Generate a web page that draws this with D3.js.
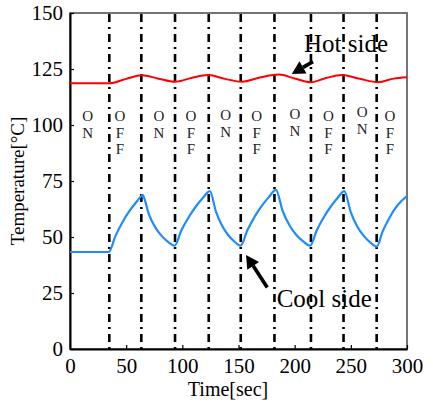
<!DOCTYPE html>
<html><head><meta charset="utf-8">
<script src="https://cdn.jsdelivr.net/npm/d3@7"></script>
<style>body{margin:0;background:#fff}svg{display:block}svg text{font-family:"Liberation Serif","Times New Roman",serif !important}</style>
</head><body>
<svg id="c" width="433" height="403" font-family="Liberation Serif"></svg>
<script>
const xTicks = [0, 50, 100, 150, 200, 250, 300];
const yTicks = [0, 25, 50, 75, 100, 125, 150];
const switchTimes = [35, 63.5, 93.5, 123.5, 152, 182, 214.5, 243.5, 273];

const hotTime = [0, 35, 50, 64, 78, 93.5, 108, 123, 138, 153, 170, 186, 200, 214.5, 228, 242, 258, 274.5, 288, 300];
const hotTemp = [118.6, 118.6, 120.6, 122.2, 120.8, 119.3, 121.0, 122.3, 120.6, 119.3, 121.3, 122.5, 120.8, 119.1, 121.0, 122.3, 120.6, 119.1, 120.7, 121.3];

const coolTime = [0, 34.5, 40.6, 46.7, 52.8, 58.9, 63.5, 64.7, 65.6, 70.2, 75.9, 81.6, 87.3, 93, 99.3, 105.6, 111.9, 118.2, 124.5, 130, 135.4, 140.9, 146.3, 151.8, 158.1, 164.4, 170.7, 177, 183.3, 189.4, 195.5, 201.5, 207.6, 213.7, 219.8, 225.9, 232, 238.1, 244.2, 250, 255.7, 261.5, 267.2, 273, 278.4, 283.8, 289.2, 294.6, 300];
const coolTemp = [43.3, 43.3, 50.6, 56.6, 61.5, 65.5, 68.3, 68.8, 68.0, 60.2, 54.3, 50.5, 47.8, 46.1, 53.1, 58.8, 63.5, 67.4, 70.5, 61.2, 55.0, 50.8, 48.0, 46.1, 53.2, 59.1, 63.9, 67.8, 71.0, 61.5, 55.1, 50.9, 48.0, 46.1, 53.1, 58.8, 63.5, 67.4, 70.5, 61.0, 54.7, 50.5, 47.6, 45.7, 52.6, 58.0, 62.6, 65.8, 68.3];

const modeLabels = ["ON", "OFF", "ON", "OFF", "ON", "OFF", "ON", "OFF", "ON", "OFF"];
const modeTimes = [15.8, 44.5, 79.2, 107.7, 138.6, 166.2, 200.3, 230, 260.2, 284.9];
const modeTop = [104, 104, 104, 104, 104.5, 104, 104.8, 104, 105.7, 104];

const FONT = '"Liberation Serif", "Times New Roman", serif';
const svg = d3.select("#c");
const L = 70, R = 407, T = 13, B = 349;
const x = d3.scaleLinear().domain([0, 300]).range([L, R]);
const y = d3.scaleLinear().domain([0, 150]).range([B, T]);

// frame
svg.append("rect").attr("x", L).attr("y", T).attr("width", R - L).attr("height", B - T)
  .attr("fill", "none").attr("stroke", "#666").attr("stroke-width", 1.8);

// switch lines
svg.selectAll(".sw").data(switchTimes).join("line")
  .attr("x1", d => x(d)).attr("x2", d => x(d)).attr("y1", T + 1).attr("y2", B)
  .attr("stroke", "#000").attr("stroke-width", 2.6).attr("stroke-dasharray", "8,5,2,5");

// axes
const xAxis = d3.axisBottom(x).tickValues(xTicks).tickSizeInner(-4).tickSizeOuter(0).tickPadding(9);
const yAxis = d3.axisLeft(y).tickValues(yTicks).tickSizeInner(-4).tickSizeOuter(0).tickPadding(7);
const gx = svg.append("g").attr("transform", `translate(0,${B})`).call(xAxis);
const gy = svg.append("g").attr("transform", `translate(${L},0)`).call(yAxis);
[gx, gy].forEach(g => {
  g.attr("font-family", FONT).attr("font-size", 21);
  g.select(".domain").attr("stroke", "#000").attr("stroke-width", 2);
  g.selectAll(".tick line").attr("stroke", "#000").attr("stroke-width", 1.2);
  g.selectAll(".tick text").attr("fill", "#000").attr("font-family", FONT).attr("font-size", 21);
});
gx.selectAll(".tick text").attr("dy", "0.71em");

// lines
const lineGen = d3.line().x(d => x(d[0])).y(d => y(d[1])).curve(d3.curveMonotoneX);
svg.append("path").datum(hotTime.map((t, i) => [t, hotTemp[i]]))
  .attr("d", lineGen).attr("fill", "none").attr("stroke", "#ff0000").attr("stroke-width", 2);
svg.append("path").datum(coolTime.map((t, i) => [t, coolTemp[i]]))
  .attr("d", lineGen).attr("fill", "none").attr("stroke", "#1e8cff").attr("stroke-width", 2.2);

// ON/OFF labels
modeLabels.forEach((lab, i) => {
  const g = svg.append("text").attr("text-anchor", "middle").attr("font-family", FONT)
    .attr("font-size", 15).attr("fill", "#222");
  lab.split("").forEach((ch, j) => {
    g.append("tspan").attr("x", x(modeTimes[i])).attr("y", y(modeTop[i]) + 5 + j * 16.7).text(ch);
  });
});

// annotations
const annText = ["Hot side", "Cool side"];
const annPos = [[208.3, 132.6], [184, 18.9]];
const arrowFrom = [[216.3, 128.3], [175.6, 27.5]];
const arrowTo = [[197.4, 122.8], [156.7, 42.0]];
annText.forEach((t, i) => {
  svg.append("text").attr("x", x(annPos[i][0])).attr("y", y(annPos[i][1]))
    .attr("font-family", FONT).attr("font-size", 25).attr("fill", "#000").text(t);
  const x1 = x(arrowFrom[i][0]), y1 = y(arrowFrom[i][1]), x2 = x(arrowTo[i][0]), y2 = y(arrowTo[i][1]);
  const ang = Math.atan2(y2 - y1, x2 - x1), hl = 13, hw = 7;
  const bx = x2 - hl * Math.cos(ang), by = y2 - hl * Math.sin(ang);
  svg.append("line").attr("x1", x1).attr("y1", y1).attr("x2", bx).attr("y2", by)
    .attr("stroke", "#000").attr("stroke-width", 3.6);
  svg.append("path").attr("d", `M${x2},${y2}L${bx + hw * Math.sin(ang)},${by - hw * Math.cos(ang)}L${bx - hw * Math.sin(ang)},${by + hw * Math.cos(ang)}Z`)
    .attr("fill", "#000");
});

// axis labels
svg.append("text").attr("x", 228).attr("y", 396).attr("text-anchor", "middle")
  .attr("font-family", FONT).attr("font-size", 20).attr("fill", "#000").text("Time[sec]");
svg.append("text").attr("transform", "translate(24,181) rotate(-90)").attr("text-anchor", "middle")
  .attr("font-family", FONT).attr("font-size", 19).attr("fill", "#000").text("Temperature[°C]");
</script>
</body></html>
